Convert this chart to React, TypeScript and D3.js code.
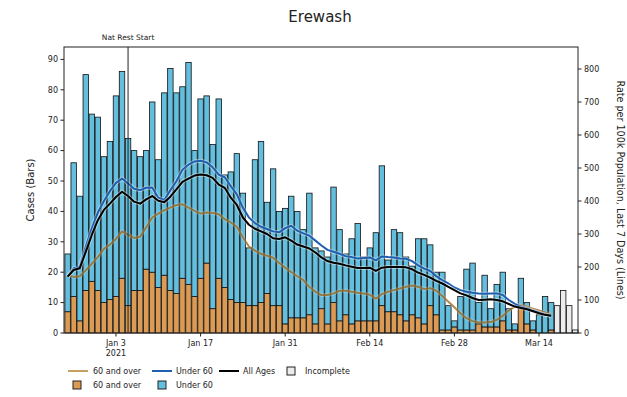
import React from "react";
import * as d3 from "d3";

const START = Date.UTC(2020, 11, 26);
const DAY = 86400000;

// Daily cases, 60 and over (bars, bottom)
const over60Cases = [7, 12, 4, 14, 17, 14, 10, 11, 12, 18, 9, 14, 14, 21, 20, 15, 19, 14, 13, 18, 16, 12, 18, 23, 8, 18, 15, 11, 10, 10, 9, 9, 10, 13, 9, 9, 3, 5, 5, 5, 6, 3, 8, 3, 10, 4, 6, 3, 4, 4, 4, 4, 9, 7, 7, 6, 4, 6, 5, 3, 9, 6, 1, 1, 2, 1, 1, 1, 3, 2, 2, 2, 4, 1, 1, 9, 3, 1, 0, 0, 1];
// Daily cases, under 60 (bars, stacked on top)
const under60Cases = [19, 44, 41, 71, 55, 57, 48, 52, 66, 68, 55, 46, 44, 39, 56, 42, 60, 73, 66, 63, 73, 48, 59, 55, 54, 59, 37, 42, 49, 36, 19, 48, 53, 30, 45, 31, 38, 40, 35, 29, 40, 25, 19, 22, 38, 30, 20, 28, 32, 21, 24, 29, 46, 17, 27, 27, 21, 16, 26, 28, 20, 14, 19, 8, 2, 11, 20, 22, 7, 17, 6, 14, 16, 7, 2, 9, 7, 3, 6, 12, 9];
// Incomplete days (total cases)
const incompleteCases = [9, 14, 9, 1];

// Rate per 100k, last 7 days (lines)
const rateOver60 = [176, 170, 172, 190, 210, 230, 255, 268, 285, 308, 298, 288, 292, 320, 350, 362, 372, 380, 388, 390, 380, 370, 362, 365, 364, 360, 345, 335, 322, 290, 262, 250, 240, 234, 228, 212, 198, 185, 172, 160, 140, 125, 115, 115, 120, 128, 128, 125, 122, 120, 116, 104, 118, 125, 130, 135, 140, 144, 140, 133, 136, 128, 112, 95, 78, 60, 45, 36, 32, 32, 33, 40, 52, 68, 80, 84, 80, 74, 68, 62, 56];
const rateUnder60 = [171, 196, 201, 261, 317, 365, 400, 430, 455, 468, 453, 437, 433, 440, 441, 410, 403, 433, 460, 495, 510, 520, 522, 517, 502, 480, 472, 445, 420, 380, 350, 333, 322, 315, 308, 305, 318, 325, 310, 302, 295, 280, 265, 252, 246, 240, 233, 230, 226, 227, 229, 220, 232, 230, 229, 226, 225, 218, 205, 195, 188, 172, 160, 150, 138, 130, 125, 122, 120, 119, 120, 120, 115, 100, 88, 80, 75, 68, 62, 56, 52];
const rateAll = [171, 191, 196, 246, 297, 342, 373, 392, 412, 428, 415, 398, 392, 405, 415, 401, 396, 413, 435, 458, 468, 477, 480, 478, 470, 450, 440, 410, 388, 350, 328, 316, 308, 300, 287, 285, 290, 280, 268, 262, 256, 244, 229, 218, 213, 210, 205, 201, 197, 197, 198, 188, 198, 200, 200, 200, 199, 193, 183, 176, 168, 158, 150, 140, 130, 120, 114, 106, 100, 101, 102, 100, 96, 88, 80, 76, 72, 66, 60, 55, 52];

const leftTicks = [0, 10, 20, 30, 40, 50, 60, 70, 80, 90];
const rightTicks = [0, 100, 200, 300, 400, 500, 600, 700, 800];
const xTickDates = ["2021-01-03", "2021-01-17", "2021-01-31", "2021-02-14", "2021-02-28", "2021-03-14"];
const natRestDate = "2021-01-05";

const COL_OLD = "#dc9b54";
const COL_YOUNG = "#64bedd";
const COL_OLD_LINE = "#9a661c";
const COL_YOUNG_LINE = "#1f5fb0";
const FONT = "DejaVu Sans, sans-serif";

const L = 64, R = 578, T = 47, B = 333;

export default function App() {
  const dayDate = (i: number) => new Date(START + i * DAY);
  const x = d3.scaleUtc()
    .domain([new Date(START - 0.6 * DAY), new Date(START + 84.45 * DAY)])
    .range([L, R]);
  const yL = d3.scaleLinear().domain([0, 94.08]).range([B, T]);
  const yR = d3.scaleLinear().domain([0, 866.7]).range([B, T]);
  const bw = x(dayDate(0.9)) - x(dayDate(0));

  const line = (vals: number[]) =>
    d3.line<number>().x((_, i) => x(dayDate(i))).y((v) => yR(v))(vals) || "";

  const fmt = d3.utcFormat("%b %-d");
  const natX = x(new Date(natRestDate + "T00:00:00Z"));

  const series = [
    { d: rateOver60, c: COL_OLD_LINE, o: 0.78, halo: 0.2 },
    { d: rateUnder60, c: COL_YOUNG_LINE, o: 1, halo: 0.4 },
    { d: rateAll, c: "#000", o: 1, halo: 0.4 },
  ];

  return (
    <svg width={627} height={397} style={{ position: "absolute", left: 0, top: 0, background: "#fff" }} fontFamily={FONT}>
      <text x={320} y={22} textAnchor="middle" fontSize={15} fill="#222">Erewash</text>

      {/* bars */}
      {over60Cases.map((v, i) => {
        const cx = x(dayDate(i));
        const u = under60Cases[i];
        return (
          <g key={"b" + i}>
            <rect x={cx - bw / 2} y={yL(v)} width={bw} height={yL(0) - yL(v)} fill={COL_OLD} stroke="#111" strokeWidth={0.8} />
            <rect x={cx - bw / 2} y={yL(v + u)} width={bw} height={yL(v) - yL(v + u)} fill={COL_YOUNG} stroke="#111" strokeWidth={0.8} />
          </g>
        );
      })}
      {incompleteCases.map((v, k) => {
        const i = over60Cases.length + k;
        const cx = x(dayDate(i));
        return <rect key={"inc" + k} x={cx - bw / 2} y={yL(v)} width={bw} height={yL(0) - yL(v)} fill="#ececec" stroke="#111" strokeWidth={0.8} />;
      })}

      {/* lines */}
      {series.map((s, k) => (
        <g key={"l" + k}>
          <path d={line(s.d)} fill="none" stroke="#fff" strokeOpacity={s.halo} strokeWidth={4} strokeLinejoin="round" />
          <path d={line(s.d)} fill="none" stroke={s.c} strokeOpacity={s.o} strokeWidth={2} strokeLinejoin="round" />
        </g>
      ))}

      {/* nat rest start */}
      <line x1={natX} x2={natX} y1={T} y2={B} stroke="#222" strokeWidth={1} />
      <text x={natX} y={40} textAnchor="middle" fontSize={7.5} fill="#222">Nat Rest Start</text>

      {/* frame */}
      <rect x={L} y={T} width={R - L} height={B - T} fill="none" stroke="#222" strokeWidth={1} />

      {/* left axis */}
      {leftTicks.map((t) => (
        <g key={"lt" + t}>
          <line x1={L - 3.5} x2={L} y1={yL(t)} y2={yL(t)} stroke="#222" />
          <text x={L - 6} y={yL(t) + 2.8} textAnchor="end" fontSize={8} fill="#222">{t}</text>
        </g>
      ))}
      <text transform={`translate(34,${(T + B) / 2}) rotate(-90)`} textAnchor="middle" fontSize={10} fill="#222">Cases (Bars)</text>

      {/* right axis */}
      {rightTicks.map((t) => (
        <g key={"rt" + t}>
          <line x1={R} x2={R + 3.5} y1={yR(t)} y2={yR(t)} stroke="#222" />
          <text x={R + 6} y={yR(t) + 2.8} textAnchor="start" fontSize={8} fill="#222">{t}</text>
        </g>
      ))}
      <text transform={`translate(617,${(T + B) / 2}) rotate(90)`} textAnchor="middle" fontSize={9.6} fill="#222">Rate per 100k Population, Last 7 Days (Lines)</text>

      {/* x axis */}
      {xTickDates.map((s, k) => {
        const d = new Date(s + "T00:00:00Z");
        const px = x(d);
        return (
          <g key={"xt" + k}>
            <line x1={px} x2={px} y1={B} y2={B + 3.5} stroke="#222" />
            <text x={px} y={B + 13} textAnchor="middle" fontSize={8} fill="#222">{fmt(d)}</text>
            {k === 0 && <text x={px} y={B + 23} textAnchor="middle" fontSize={8} fill="#222">2021</text>}
          </g>
        );
      })}

      {/* legend */}
      <g fontSize={8} fill="#222">
        <line x1={68} x2={88} y1={371} y2={371} stroke="#c9a063" strokeWidth={2} />
        <text x={93} y={374}>60 and over</text>
        <line x1={152} x2={172} y1={371} y2={371} stroke={COL_YOUNG_LINE} strokeWidth={2} />
        <text x={176} y={374}>Under 60</text>
        <line x1={219} x2={239} y1={371} y2={371} stroke="#000" strokeWidth={2} />
        <text x={243} y={374}>All Ages</text>
        <rect x={287} y={367} width={8} height={8} fill="#ececec" stroke="#222" />
        <text x={305} y={374}>Incomplete</text>
        <rect x={73} y={381} width={8} height={8} fill={COL_OLD} stroke="#222" />
        <text x={93} y={388}>60 and over</text>
        <rect x={158} y={381} width={8} height={8} fill={COL_YOUNG} stroke="#222" />
        <text x={176} y={388}>Under 60</text>
      </g>
    </svg>
  );
}
